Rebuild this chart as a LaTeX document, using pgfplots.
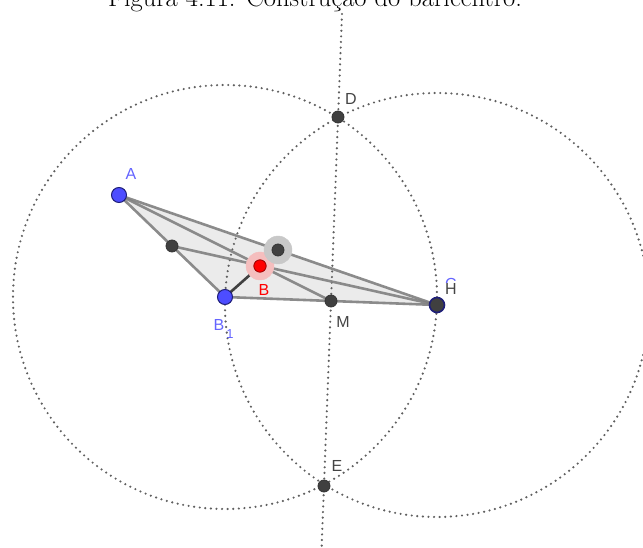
\documentclass[border=0pt]{standalone}
\usepackage{fontspec}
\usepackage{pgfplots}
\pgfplotsset{compat=1.18}
\newfontfamily\lab{Liberation Sans}
\definecolor{ggblue}{RGB}{77,77,255}
\definecolor{ggblueb}{RGB}{30,30,120}
\definecolor{ggdark}{RGB}{64,64,64}
\definecolor{gglab}{RGB}{68,68,68}
\definecolor{ggline}{RGB}{128,128,128}
\definecolor{ggfill}{RGB}{235,235,235}
\definecolor{gglabblue}{RGB}{100,100,255}
\definecolor{halored}{RGB}{245,190,190}
\definecolor{halogray}{RGB}{200,200,200}
\definecolor{ggdot}{RGB}{95,95,95}
\begin{document}
\begin{tikzpicture}
\path[use as bounding box, clip] (0,0) rectangle (643pt,548pt);
\begin{axis}[at={(0,0)}, anchor=south west, width=643pt, height=548pt,
  scale only axis, hide axis, xmin=0, xmax=643, ymin=0, ymax=548,
  y dir=reverse, clip=false]
% triangle fill
\addplot[fill=ggfill, draw=none] coordinates {(119,195) (437,305) (225,297)} -- cycle;
% dotted construction
\draw[ggdot, line width=2.4pt, line cap=round, dash pattern=on 0pt off 5.6pt] (axis cs:225,297) circle[radius=212];
\draw[ggdot, line width=2.4pt, line cap=round, dash pattern=on 0pt off 5.6pt] (axis cs:437,305) circle[radius=212];
\addplot[ggdot, line width=2.4pt, line cap=round, dash pattern=on 0pt off 5.6pt] coordinates {(342,14) (321.6,548)};
% halos
\addplot[only marks, mark=*, mark size=14, mark options={fill=halored, draw=halored}] coordinates {(260,266)};
\addplot[only marks, mark=*, mark size=14, mark options={fill=halogray, draw=halogray}] coordinates {(278,250)};
% triangle edges and medians
\addplot[ggline, line width=2.6pt, opacity=0.9] coordinates {(119,195) (437,305)};
\addplot[ggline, line width=2.6pt, opacity=0.9] coordinates {(119,195) (225,297)};
\addplot[ggline, line width=2.6pt, opacity=0.9] coordinates {(225,297) (437,305)};
\addplot[ggline, line width=2.6pt, opacity=0.9] coordinates {(119,195) (331,301)};
\addplot[ggline, line width=2.6pt, opacity=0.9] coordinates {(172,246) (437,305)};
\addplot[ggdark, line width=2.6pt] coordinates {(225,297) (278,250)};
% points
\addplot[only marks, mark=*, mark size=6, mark options={fill=ggdark, draw=black!80, line width=0.8pt}] coordinates {(172,246) (278,250) (331,301) (338,117) (324,486)};
\addplot[only marks, mark=*, mark size=7.5, mark options={fill=ggdark, draw=ggblueb, line width=1.6pt}] coordinates {(437,305)};
\addplot[only marks, mark=*, mark size=7.5, mark options={fill=ggblue, draw=ggblueb, line width=1pt}] coordinates {(119,195) (225,297)};
\addplot[only marks, mark=*, mark size=6.2, mark options={fill=red, draw=red!60!black, line width=0.8pt}] coordinates {(260,266)};
% labels
\node[gglabblue, font=\lab\fontsize{16}{16}\selectfont] at (axis cs:131,174) {A};
\node[gglabblue, font=\lab\fontsize{16}{16}\selectfont] at (axis cs:219,325) {B};
\node[gglabblue, font=\lab\fontsize{13}{13}\selectfont] at (axis cs:230,334) {1};
\node[red, font=\lab\fontsize{16}{16}\selectfont] at (axis cs:264,290) {B};
\node[gglabblue, font=\lab\fontsize{16}{16}\selectfont] at (axis cs:451,284) {C};
\node[gglab, fill=white, inner sep=0.5pt, font=\lab\fontsize{16}{16}\selectfont] at (axis cs:451,289) {H};
\node[gglab, font=\lab\fontsize{16}{16}\selectfont] at (axis cs:343,322) {M};
\node[gglab, font=\lab\fontsize{16}{16}\selectfont] at (axis cs:351,99) {D};
\node[gglab, font=\lab\fontsize{16}{16}\selectfont] at (axis cs:337,466) {E};
% title (cut off at the top)
\node[anchor=base, inner sep=0pt, font=\fontsize{26.5}{30}\selectfont] at (axis cs:315,7) {Figura 4.11: Construção do baricentro.};
\end{axis}
\end{tikzpicture}
\end{document}
